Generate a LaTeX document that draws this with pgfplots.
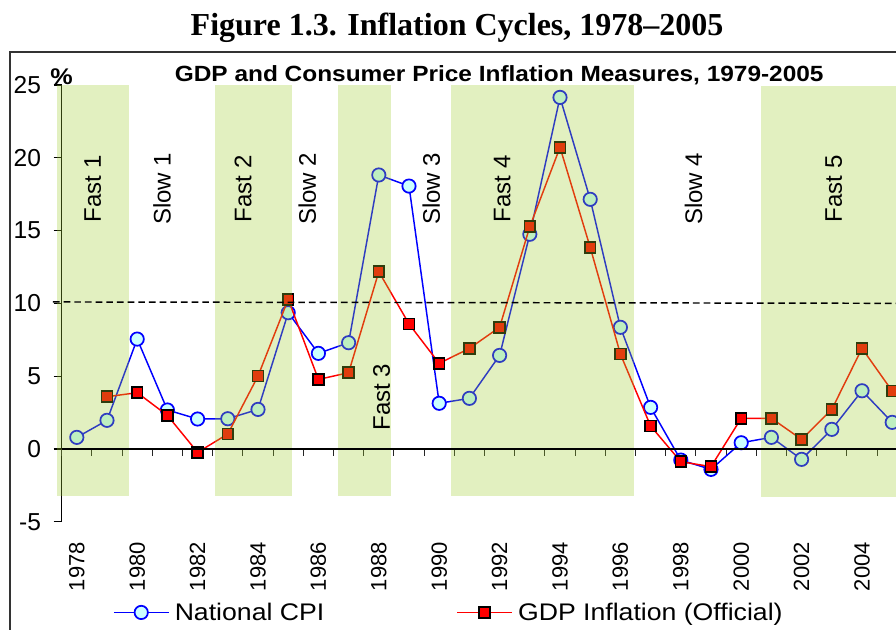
\documentclass[border=0pt]{standalone}
\usepackage{fontspec}
\setmainfont{Liberation Sans}
\newfontfamily\chartH{Liberation Sans}[FakeStretch=1.11]
\newfontfamily\titlefont{Liberation Serif}
\usepackage{pgfplots}
\pgfplotsset{compat=1.18}
\definecolor{shade}{rgb}{0.62,0.80,0.19}
\definecolor{cpifill}{HTML}{CCFFFF}
\definecolor{cpiblue}{HTML}{0000FF}
\definecolor{gdpred}{HTML}{FF0000}
\definecolor{framegray}{HTML}{333333}

\pgfplotstableread{
year cpi gdp
1978 0.80 nan
1979 1.97 3.59
1980 7.55 3.87
1981 2.68 2.31
1982 2.06 -0.23
1983 2.08 1.03
1984 2.72 5.01
1985 9.36 10.28
1986 6.57 4.78
1987 7.30 5.24
1988 18.82 12.18
1989 18.06 8.59
1990 3.14 5.88
1991 3.48 6.91
1992 6.43 8.36
1993 14.75 15.27
1994 24.15 20.72
1995 17.15 13.85
1996 8.36 6.52
1997 2.86 1.58
1998 -0.76 -0.87
1999 -1.40 -1.21
2000 0.43 2.11
2001 0.80 2.11
2002 -0.71 0.66
2003 1.35 2.72
2004 4.00 6.91
2005 1.83 3.98
}\datatable

\begin{document}
\begin{tikzpicture}
\path[use as bounding box] (0pt,0pt) rectangle (672pt,-471.75pt);
\clip (0pt,0pt) rectangle (672pt,-471.75pt);
\draw[framegray, line width=1.5pt] (7.5pt,-520pt) -- (7.5pt,-38.8pt) -- (720pt,-38.8pt);
\node[font=\titlefont\bfseries\fontsize{24}{28}\selectfont, anchor=base, inner sep=0pt] at (342.8pt,-26.8pt) {Figure 1.3. Inflation Cycles, 1978–2005};
\node[font=\chartH\bfseries\fontsize{16.5}{19}\selectfont, anchor=base, inner sep=0pt] at (374.4pt,-61.25pt) {GDP and Consumer Price Inflation Measures, 1979-2005};
\node[font=\chartH\bfseries\fontsize{17}{19}\selectfont, inner sep=0pt] at (46.2pt,-57.2pt) {\%};
\begin{axis}[
  at={(46.275pt,-391.35pt)}, anchor=south west,
  scale only axis, width=634.2pt, height=327.6pt,
  xmin=1977.5, xmax=2005.5, ymin=-5, ymax=25,
  axis y line*=left, axis x line*=bottom,
  x axis line style={draw=none},
  xtick={1978,1980,...,2004},
  xtick style={draw=none},
  xticklabel style={rotate=90, anchor=east, font=\fontsize{16.5}{18}\selectfont, inner sep=0pt, xshift=-9pt},
  ytick={-5,0,...,25},
  yticklabel style={font=\fontsize{18.4}{20}\selectfont, xshift=-6pt},
  ytick style={black, line width=0.8pt},
  tick align=outside, major tick length=6pt,
  y axis line style={line width=1pt, black},
  /pgf/number format/assume math mode=true,
  /pgf/number format/1000 sep={},
  clip=false, clip marker paths=true,
  legend columns=2,
  legend style={draw=none, fill=none, at={(0.0607,-0.2075)}, anchor=west, inner sep=0pt, outer sep=0pt,
    font=\chartH\fontsize{18}{20}\selectfont,
    /tikz/every even column/.append style={column sep=97pt},
    /tikz/every odd column/.append style={column sep=2pt}},
  legend image code/.code={\draw[mark repeat=2,mark phase=2,#1] plot coordinates {(0pt,0pt) (20.6pt,0pt) (41.2pt,0pt)};},
]
\pgfplotsinvokeforeach{1977.5,1978.5,...,2005.5}{\draw[black!85, line width=0.8pt] (axis cs:#1,0) -- ++(0pt,-5.3pt);}
\addplot[cpiblue, line width=1.1pt, mark=*, mark size=5pt, mark options={fill=cpifill, draw=cpiblue, line width=1.3pt}] table[x=year, y=cpi] {\datatable};
\addlegendentry{National CPI}
\addplot[gdpred, line width=1.1pt, mark=square*, mark size=4.1pt, mark options={fill=gdpred, draw=black, line width=1.2pt}, unbounded coords=jump] table[x=year, y=gdp] {\datatable};
\addlegendentry{GDP Inflation (Official)}
\addplot[forget plot, draw=none, fill=shade, fill opacity=0.3] coordinates {(1977.34,-3.2) (1979.73,-3.2) (1979.73,25) (1977.34,25)} -- cycle;
\addplot[forget plot, draw=none, fill=shade, fill opacity=0.3] coordinates {(1982.58,-3.2) (1985.13,-3.2) (1985.13,25) (1982.58,25)} -- cycle;
\addplot[forget plot, draw=none, fill=shade, fill opacity=0.3] coordinates {(1986.65,-3.2) (1988.39,-3.2) (1988.39,25) (1986.65,25)} -- cycle;
\addplot[forget plot, draw=none, fill=shade, fill opacity=0.3] coordinates {(1990.39,-3.2) (1996.45,-3.2) (1996.45,25) (1990.39,25)} -- cycle;
\addplot[forget plot, draw=none, fill=shade, fill opacity=0.3] coordinates {(2000.66,-3.33) (2007,-3.33) (2007,24.95) (2000.66,24.95)} -- cycle;
\addplot[forget plot, black, line width=1.1pt, dash pattern=on 5pt off 3pt] coordinates {(1977.21,10.1) (2007,10.0)};
\draw[black, line width=1pt] (axis cs:1977.5,0) -- (axis cs:2007,0);
\begin{scope}[every node/.style={rotate=90, font=\fontsize{18}{20}\selectfont, inner sep=0pt}]
\node at (axis cs:1978.53,17.86) {Fast 1};
\node at (axis cs:1980.82,17.86) {Slow 1};
\node at (axis cs:1983.51,17.86) {Fast 2};
\node at (axis cs:1985.63,17.86) {Slow 2};
\node at (axis cs:1988.09,3.57) {Fast 3};
\node at (axis cs:1989.74,17.86) {Slow 3};
\node at (axis cs:1992.09,17.86) {Fast 4};
\node at (axis cs:1998.42,17.86) {Slow 4};
\node at (axis cs:2003.06,17.86) {Fast 5};
\end{scope}
\end{axis}
\end{tikzpicture}
\end{document}
